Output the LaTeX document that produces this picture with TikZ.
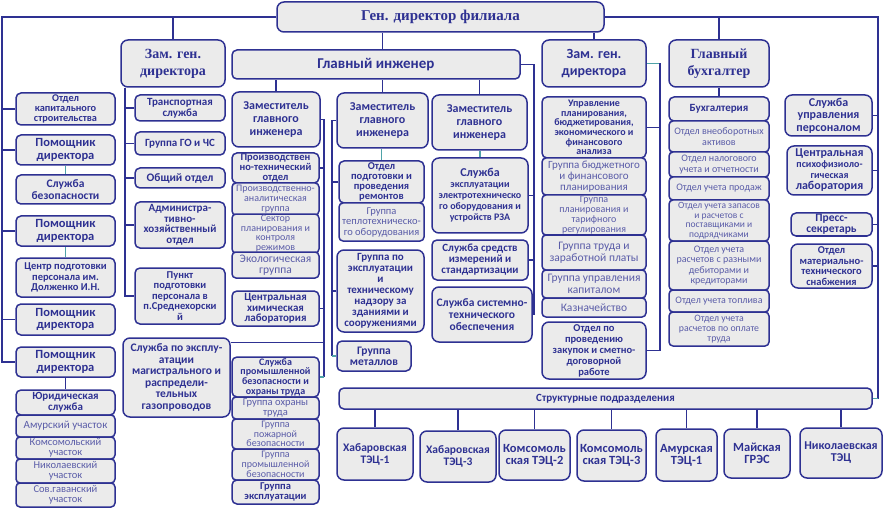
\documentclass[tikz,border=0pt]{standalone}
\usepackage{fontspec}
\setmainfont{Carlito}
\newfontfamily\titlefont{Liberation Serif}
\usepackage{tikz}
\definecolor{chartc}{HTML}{2E3192}
\definecolor{softc}{HTML}{5A5CA8}
\definecolor{boxc}{HTML}{EBEBEB}
\definecolor{tealc}{HTML}{4FA3A8}
\newcommand\fs[2]{\fontsize{#1}{#2}\selectfont}
\tikzset{
  unitbox/.style={draw=chartc, line width=1.5pt, fill=boxc, rounded corners=5pt, align=center, text=chartc, inner sep=1pt, font=\bfseries\fs{11}{11}},
  subbox/.style={text=softc, font=\fs{10.5}{10}, rounded corners=4pt},
  headbox/.style={rounded corners=7pt},
  busline/.style={draw=chartc, line width=1.3pt},
  tealline/.style={draw=tealc, line width=1.3pt},
}
\newcommand\ubox[7][]{%
  \pgfmathsetmacro\bw{#5-#3}%
  \pgfmathsetmacro\bh{#6-#4}%
  \node[unitbox,#1,minimum width=\bw pt,minimum height=\bh pt] (#2) at ({(#3+#5)/2},{(#4+#6)/2}) {#7};}

\begin{document}
\begin{tikzpicture}[x=1pt,y=-1pt]
\useasboundingbox (0,0) rectangle (886,513);
\coordinate (lb) at (2,0);
\coordinate (rb) at (878,0);
\coordinate (zb) at (125,0);
\coordinate (eb1) at (324,0);
\coordinate (eb2) at (332,0);
\coordinate (eb3) at (534,0);
\coordinate (zb2) at (660,0);

\ubox[headbox,font=\titlefont\bfseries\fs{15}{16}]{gd}{277}{2}{604}{32}{Ген. директор филиала}

\ubox[font=\bfseries\fs{10.3}{9.8}]{okc}{16}{93}{115}{125}{Отдел\\капитального\\строительства}
\ubox[font=\bfseries\fs{12.5}{12.5}]{pa1}{16}{135}{115}{165}{Помощник\\директора}
\ubox[font=\bfseries\fs{11.5}{12.5}]{sb}{16}{175}{115}{204}{Служба\\безопасности}
\ubox[font=\bfseries\fs{12.5}{12.5}]{pa2}{16}{216}{115}{246}{Помощник\\директора}
\ubox[font=\bfseries\fs{10.5}{10.5}]{cp}{16}{258}{115}{297}{Центр подготовки\\персонала им.\\Долженко И.Н.}
\ubox[font=\bfseries\fs{12.5}{12.5}]{pa3}{16}{304}{115}{335}{Помощник\\директора}
\ubox[font=\bfseries\fs{12.5}{12.5}]{pa4}{16}{347}{115}{377}{Помощник\\директора}
\ubox[font=\bfseries\fs{11}{10.5}]{yur}{16}{390}{115}{415}{Юридическая\\служба}
\ubox[subbox,font=\fs{11}{10}]{ua}{16}{415}{115}{437}{Амурский участок}
\ubox[subbox]{uk}{16}{437}{115}{459}{Комсомольский\\участок}
\ubox[subbox]{un}{16}{459}{115}{483}{Николаевский\\участок}
\ubox[subbox]{us}{16}{483}{115}{507}{Сов.гаванский\\участок}

\ubox[headbox,font=\titlefont\bfseries\fs{14}{17}]{zg1}{121}{40}{225}{87}{Зам. ген.\\директора}
\ubox{ts}{135}{95}{225}{121}{Транспортная\\служба}
\ubox{go}{135}{132}{225}{155}{Группа ГО и ЧС}
\ubox[font=\bfseries\fs{11.5}{10}]{ob}{135}{168}{225}{188}{Общий отдел}
\ubox[font=\bfseries\fs{11}{10.5}]{aho}{135}{202}{225}{248}{Администра-\\тивно-\\хозяйственный\\отдел}
\ubox[font=\bfseries\fs{10.5}{10.5}]{pp}{135}{268}{225}{324}{Пункт\\подготовки\\персонала в\\п.Среднехорски\\й}
\ubox[headbox,font=\bfseries\fs{11.5}{11.5}]{sm}{123}{338}{230}{417}{Служба по эксплу-\\атации\\магистрального и\\распредели-\\тельных\\газопроводов}

\ubox[font=\bfseries\fs{15}{14}]{gi}{232}{50}{520}{79}{Главный инженер}
\ubox[headbox,font=\bfseries\fs{12}{13}]{zi1}{232}{92}{320}{147}{Заместитель\\главного\\инженера}
\ubox[font=\bfseries\fs{10.5}{9.8}]{pto}{232}{153}{319}{183}{Производствен\\но-технический\\отдел}
\ubox[subbox,font=\fs{10}{9.8}]{pag}{232}{183}{319}{215}{Производственно-\\аналитическая\\группа}
\ubox[subbox,font=\fs{10}{9.6}]{spk}{232}{215}{319}{252}{Сектор\\планирования и\\контроля\\режимов}
\ubox[subbox,font=\fs{11.5}{11}]{eko}{232}{252}{319}{278}{Экологическая\\группа}
\ubox[font=\bfseries\fs{11}{10.5}]{chl}{232}{291}{319}{326}{Центральная\\химическая\\лаборатория}
\ubox[font=\bfseries\fs{10}{9.6}]{spb}{232}{357}{319}{397}{Служба\\промышленной\\безопасности и\\охраны труда}
\ubox[subbox,font=\fs{10.5}{10}]{got}{232}{397}{319}{419}{Группа охраны\\труда}
\ubox[subbox,font=\fs{10}{9.6}]{gpb}{232}{419}{319}{449}{Группа\\пожарной\\безопасности}
\ubox[subbox,font=\fs{10}{9.8}]{gpr}{232}{449}{319}{480}{Группа\\промышленной\\безопасности}
\ubox[font=\bfseries\fs{10.5}{10.5}]{gex}{232}{480}{319}{504}{Группа\\эксплуатации}

\ubox[headbox,font=\bfseries\fs{12}{13}]{zi2}{337}{93}{428}{148}{Заместитель\\главного\\инженера}
\ubox[font=\bfseries\fs{10.5}{10}]{opr}{339}{161}{424}{203}{Отдел\\подготовки и\\проведения\\ремонтов}
\ubox[subbox,font=\fs{10.5}{10.5}]{gto}{339}{203}{424}{241}{Группа\\теплотехническо-\\го оборудования}
\ubox[headbox,font=\bfseries\fs{11}{11}]{gpe}{337}{250}{424}{332}{Группа по\\эксплуатации\\и\\техническому\\надзору за\\зданиями и\\сооружениями}
\ubox[font=\bfseries\fs{11.5}{11}]{gm}{337}{341}{411}{371}{Группа\\металлов}

\ubox[headbox,font=\bfseries\fs{12}{13}]{zi3}{432}{95}{527}{150}{Заместитель\\главного\\инженера}
\ubox[headbox,font=\bfseries\fs{10}{11}]{sel}{432}{158}{528}{233}{\fs{12}{12}Служба\\эксплуатации\\электротехническо\\го оборудования и\\устройств РЗА}
\ubox[font=\bfseries\fs{11}{11}]{sr}{432}{240}{528}{280}{Служба средств\\измерений и\\стандартизации}
\ubox[headbox,font=\bfseries\fs{11.5}{12}]{ss}{432}{287}{532}{342}{Служба системно-\\технического\\обеспечения}

\ubox[headbox,font=\bfseries\fs{14}{17}]{zg2}{542}{40}{646}{87}{Зам. ген.\\директора}
\ubox[font=\bfseries\fs{10}{9.7}]{upl}{542}{97}{646}{158}{Управление\\планирования,\\бюджетирования,\\экономического и\\финансового\\анализа}
\ubox[subbox,font=\fs{11}{11}]{gbf}{542}{158}{646}{195}{Группа бюджетного\\и финансового\\планирования}
\ubox[subbox,font=\fs{10}{9.8}]{gpt}{542}{195}{646}{235}{Группа\\планирования и\\тарифного\\регулирования}
\ubox[subbox,font=\fs{11.5}{12}]{gtz}{542}{235}{646}{270}{Группа труда и\\заработной платы}
\ubox[subbox,font=\fs{11.5}{11.5}]{guk}{542}{270}{646}{298}{Группа управления\\капиталом}
\ubox[subbox,font=\fs{11.5}{11}]{kaz}{542}{298}{646}{317}{Казначейство}
\ubox[headbox,font=\bfseries\fs{10.5}{11}]{zak}{542}{322}{646}{379}{Отдел по\\проведению\\закупок и сметно-\\договорной\\работе}

\ubox[headbox,font=\titlefont\bfseries\fs{14}{17}]{gb}{669}{40}{769}{87}{Главный\\бухгалтер}
\ubox[font=\bfseries\fs{11}{10}]{buh}{669}{97}{769}{121}{Бухгалтерия}
\ubox[subbox,font=\fs{10}{11}]{ova}{669}{121}{769}{152}{Отдел внеоборотных\\активов}
\ubox[subbox,font=\fs{10}{10.5}]{ono}{669}{152}{769}{177}{Отдел налогового\\учета и отчетности}
\ubox[subbox,font=\fs{10}{10}]{oup}{669}{177}{769}{200}{Отдел учета продаж}
\ubox[subbox,font=\fs{9.5}{9.5}]{ouz}{669}{200}{769}{241}{Отдел учета запасов\\и расчетов с\\поставщиками и\\подрядчиками}
\ubox[subbox,font=\fs{10}{10.5}]{oud}{669}{241}{769}{290}{Отдел учета\\расчетов с разными\\дебиторами и\\кредиторами}
\ubox[subbox,font=\fs{10}{10}]{out}{669}{290}{769}{312}{Отдел учета топлива}
\ubox[subbox,font=\fs{9.8}{9.8}]{ouo}{669}{312}{769}{346}{Отдел учета\\расчетов по оплате\\труда}

\ubox[headbox,font=\bfseries\fs{12}{12.5}]{sup}{785}{95}{872}{136}{Служба\\управления\\персоналом}
\ubox[headbox,font=\bfseries\fs{10}{11}]{cpl}{787}{146}{872}{195}{\fs{12}{11}Центральная\\психофизиоло-\\гическая\\\fs{12}{11}лаборатория}
\ubox[font=\bfseries\fs{11.5}{11}]{prs}{791}{213}{872}{236}{Пресс-\\секретарь}
\ubox[headbox,font=\bfseries\fs{10.5}{10.5}]{omt}{791}{244}{872}{288}{Отдел\\материально-\\технического\\снабжения}

\ubox[font=\bfseries\fs{11}{12}]{sp}{339}{388}{872}{409}{Структурные подразделения}
\ubox[headbox,font=\bfseries\fs{11.5}{12}]{p1}{337}{428}{413}{480}{Хабаровская\\ТЭЦ-1}
\ubox[headbox,font=\bfseries\fs{11.5}{12}]{p2}{420}{431}{496}{482}{Хабаровская\\ТЭЦ-3}
\ubox[headbox,font=\bfseries\fs{12.5}{12}]{p3}{499}{430}{570}{480}{Комсомоль\\ская ТЭЦ-2}
\ubox[headbox,font=\bfseries\fs{12.5}{12}]{p4}{577}{430}{646}{481}{Комсомоль\\ская ТЭЦ-3}
\ubox[headbox,font=\bfseries\fs{12.5}{12}]{p5}{656}{429}{717}{481}{Амурская\\ТЭЦ-1}
\ubox[headbox,font=\bfseries\fs{12.5}{12}]{p6}{724}{429}{790}{478}{Майская\\ГРЭС}
\ubox[headbox,font=\bfseries\fs{12}{12}]{p7}{800}{428}{882}{478}{Николаевская\\ТЭЦ}

\draw[busline] (gd.west) -| (lb |- pa4.west) -- (pa4.west);
\foreach \n in {okc,pa1,pa2,pa3}
  \draw[busline] (\n.west) -- (lb |- \n.west);
\draw[busline] (gd.east) -| (rb |- sp.east);
\draw[tealline] (rb |- sp.east) -- (sp.east);
\foreach \n in {sup,cpl,prs,omt}
  \draw[busline] (\n.east) -- (rb |- \n.east);
\draw[busline] (zg1.north) -- (zg1.north |- gd.west);
\draw[busline] (gb.north) -- (gb.north |- gd.east);
\draw[busline] (zg2.north) -- (zg2.north |- gd.south);
\draw[busline] (zi2.north |- gd.south) -- (zi2.north |- gi.north);
\foreach \n in {zi1,zi2,zi3}
  \draw[busline] (\n.north) -- (\n.north |- gi.south);

\draw[tealline] (pa1.south) -- (sb.north);
\draw[tealline] (pa2.south) -- (cp.north);
\draw[busline] (pa4.south) -- (yur.north);
\draw[tealline] (opr.north) -- (opr.north |- zi2.south);
\draw[tealline] (sel.north) -- (sel.north |- zi3.south);
\draw[busline] (buh.north) -- (gb.south);

\draw[busline] (zb |- zg1.south) -- (zb |- pp.west) -- (pp.west);
\foreach \n in {ts,go,ob,aho}
  \draw[busline] (\n.west) -- (zb |- \n.west);

\draw[busline] (zi1.east) -- (eb1 |- zi1.east) -- (eb1 |- spb.east);
\foreach \n in {pto,chl}
  \draw[busline] (\n.east) -- (eb1 |- \n.east);
\draw[tealline] (spb.east) -- (eb1 |- spb.east);
\draw[busline] ([yshift=-5pt]sm.north east) coordinate (smc) -- (eb1 |- smc);

\draw[busline] (zi2.west) -- (eb2 |- zi2.west) -- (eb2 |- gm.west);
\foreach \n in {opr,gpe}
  \draw[busline] (\n.west) -- (eb2 |- \n.west);
\draw[tealline] (gm.west) -- (eb2 |- gm.west);

\draw[busline] (gi.east) -| (eb3 |- ss.east) -- (ss.east);
\foreach \n in {sel,sr}
  \draw[busline] (\n.east) -- (eb3 |- \n.east);

\draw[tealline] (zg2.east) -- (zb2 |- zg2.east);
\draw[busline] (zb2 |- zg2.east) -- (zb2 |- zak.east) -- (zak.east);
\draw[busline] (upl.east) -- (zb2 |- upl.east);

\foreach \n in {p1,p2,p3,p4,p5,p6,p7}
  \draw[busline] (\n.north) -- (\n.north |- sp.south);
\end{tikzpicture}
\end{document}
